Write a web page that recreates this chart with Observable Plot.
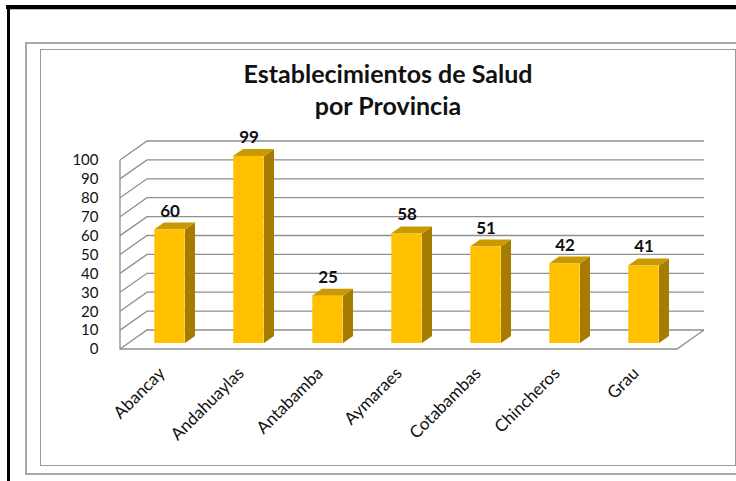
<!DOCTYPE html>
<html>
<head>
<meta charset="utf-8">
<script src="https://cdn.jsdelivr.net/npm/d3@7"></script>
<script src="https://cdn.jsdelivr.net/npm/@observablehq/plot@0.6"></script>
<style>
  body { margin: 0; background: #fff; }
  #wrap { position: relative; width: 736px; height: 481px; overflow: hidden; font-family: Lato, "Open Sans", sans-serif; background: #fff; }
  .blk-top { position: absolute; left: 6px; top: 5px; width: 740px; height: 4px; background: #000; }
  .blk-top2 { position: absolute; left: 10px; top: 9px; width: 740px; height: 1px; background: #bdbdbd; }
  .blk-left { position: absolute; left: 7px; top: 5px; width: 3px; height: 480px; background: #000; }
  .outer { position: absolute; left: 25px; top: 42px; width: 730px; height: 429px; border: 2px solid #a8a8a8; }
  .inner { position: absolute; left: 40px; top: 49px; width: 694px; height: 415px; border: 1px solid #9a9a9a; }
  #title { position: absolute; left: 40px; width: 696px; top: 57px; text-align: center; font-weight: bold; font-size: 25px; line-height: 32px; color: #111; }
  #chart { position: absolute; left: 0; top: 0; }
  #chart g[aria-label="x-axis tick label"] text { font-size: 17px; }
</style>
</head>
<body>
<div id="wrap">
  <div class="blk-top"></div>
  <div class="blk-top2"></div>
  <div class="blk-left"></div>
  <div class="outer"></div>
  <div class="inner"></div>
  <div id="title">Establecimientos de Salud<br>por Provincia</div>
  <div id="chart"></div>
</div>
<script>
// ---- data ----
const provincias = ["Abancay", "Andahuaylas", "Antabamba", "Aymaraes", "Cotabambas", "Chincheros", "Grau"];
const establecimientos = [60, 99, 25, 58, 51, 42, 41];
const yTicks = [0, 10, 20, 30, 40, 50, 60, 70, 80, 90, 100];

const data = provincias.map((p, i) => ({provincia: p, valor: establecimientos[i]}));

// ---- 3D look (pixel offsets) ----
const WALL = {dx: 27, dy: -19};   // depth of the back wall
const FRONT = {dx: 8, dy: -6};    // where the bar's front face sits in depth
const DEPTH = {dx: 10, dy: -7};   // bar depth
const HALF = 15.5;                // half width of a bar face
const GRID = "#8f8f8f";

function walls(index, scales, values, dimensions) {
  const {y} = scales;
  const L = dimensions.marginLeft, R = dimensions.width - dimensions.marginRight;
  const g = d3.create("svg:g").attr("fill", "none").attr("stroke", GRID).attr("stroke-width", 1.3);
  for (const t of yTicks) {
    const yy = y(t);
    g.append("path").attr("d", `M${L},${yy}L${L + WALL.dx},${yy + WALL.dy}L${R + WALL.dx},${yy + WALL.dy}`);
  }
  const y0 = y(0), yMax = y(d3.max(yTicks));
  g.append("path").attr("d", `M${L},${yMax}L${L},${y0}L${R},${y0}L${R + WALL.dx},${y0 + WALL.dy}`);
  return g.node();
}

function faces(index, scales, values, dimensions) {
  const {x, y} = scales;
  const bw = x.bandwidth ? x.bandwidth() : (dimensions.width - dimensions.marginLeft - dimensions.marginRight) / provincias.length;
  const g = d3.create("svg:g");
  for (const d of data) {
    const cx = x(d.provincia) + bw / 2 + FRONT.dx;
    const yt = y(d.valor) + FRONT.dy, yb = y(0) + FRONT.dy;
    const l = cx - HALF, r = cx + HALF;
    g.append("path")
      .attr("d", `M${r},${yt}L${r + DEPTH.dx},${yt + DEPTH.dy}L${r + DEPTH.dx},${yb + DEPTH.dy}L${r},${yb}Z`)
      .attr("fill", "#a67c00");
    g.append("path")
      .attr("d", `M${l},${yt}L${l + DEPTH.dx},${yt + DEPTH.dy}L${r + DEPTH.dx},${yt + DEPTH.dy}L${r},${yt}Z`)
      .attr("fill", "#c89a00");
  }
  return g.node();
}

const bandW = (736 - 120 - 59) / provincias.length;

const chart = Plot.plot({
  width: 736,
  height: 481,
  marginLeft: 120,
  marginRight: 59,
  marginTop: 160,
  marginBottom: 132,
  style: {background: "transparent", fontFamily: "Lato, 'Open Sans', sans-serif", fontSize: "15px", color: "#111", overflow: "visible"},
  x: {domain: provincias, padding: 0, tickSize: 0, tickPadding: 21, tickRotate: -45, label: null},
  y: {domain: [0, 100], ticks: yTicks, tickSize: 0, tickPadding: 22, label: null},
  marks: [
    walls,
    faces,
    Plot.barY(data, {x: "provincia", y: "valor", fill: "#ffc000", dx: FRONT.dx, dy: FRONT.dy,
      insetLeft: bandW / 2 - HALF, insetRight: bandW / 2 - HALF}),
    Plot.text(data, {x: "provincia", y: "valor", text: d => String(d.valor), dx: FRONT.dx, dy: -25,
      fontWeight: "bold", fontSize: 17, fill: "#111"})
  ]
});
document.getElementById("chart").appendChild(chart);
</script>
</body>
</html>
